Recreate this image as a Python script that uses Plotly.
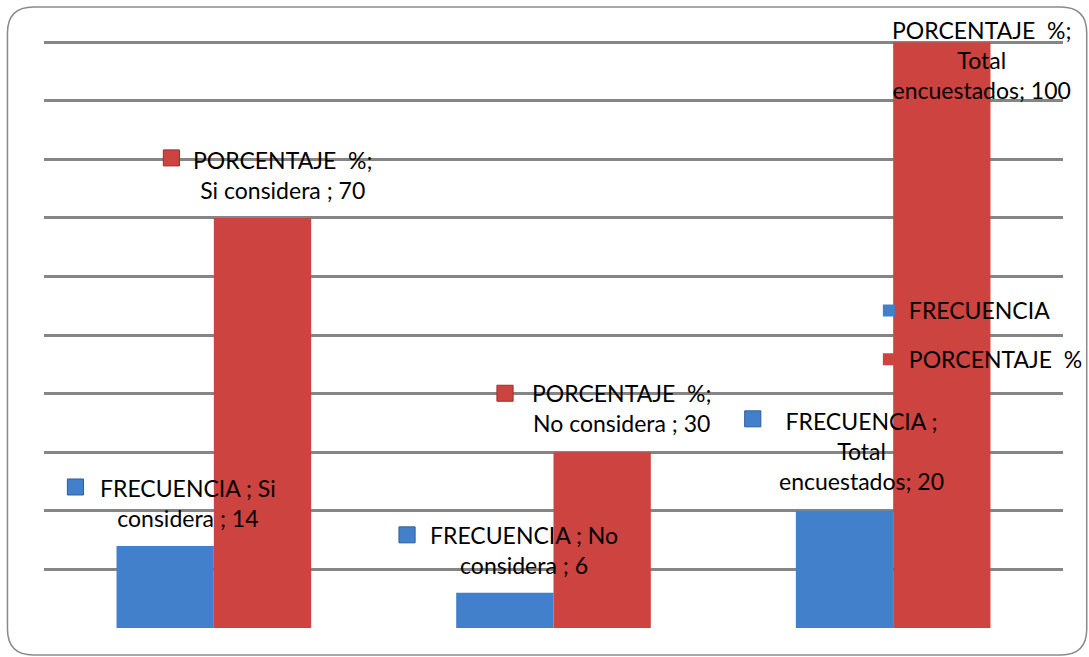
import plotly.graph_objects as go

# ---------------- data ----------------
categories = ["Si considera ", "No considera ", "Total encuestados"]
series_names = ["FRECUENCIA ", "PORCENTAJE  %"]
frecuencia = [14, 6, 20]
porcentaje = [70, 30, 100]
y_ticks = list(range(0, 101, 10))

# ---------------- layout constants ----------------
SX = 1100 / 1089          # horizontal compensation for the capture viewport
W, H = 1100, 657
ML, MR, MT, MB = round(44 * SX), round(26 * SX), 41, 29
PW = W - ML - MR
PH = H - MT - MB
Y_MAX = 100.2

BLUE, BLUE_DARK = "#4280cc", "#2f5d99"
RED, RED_DARK = "#cc4340", "#9a2f2c"
GRID = "#858585"
FONT = "Lato"
FS = 23

# label wrapping (token index where a new line starts) and placement (px offsets from bar top)
BREAKS = [[[3], [3], [2, 3]], [[3], [3], [3, 4]]]
LABEL_SHIFT = [[(-26, 43), (-29, 43), (-31, 60)], [(68, 43), (67, 44), (87, -18)]]
KEY_SHIFT = [[(-137, 59), (-145, 58), (-139, 92)], [(-42, 60), (-48, 59), (-28, 12)]]
KEY = 8


def nb(s):
    return s.replace("  ", " \u00a0")


def wrap(text, breaks):
    toks = text.split(" ")
    cuts = [0] + breaks + [len(toks)]
    lines = [" ".join(toks[a:b]) for a, b in zip(cuts[:-1], cuts[1:])]
    return "<br>".join(nb(l) for l in lines)


fig = go.Figure()
series = [frecuencia, porcentaje]
colors = [(BLUE, BLUE_DARK), (RED, RED_DARK)]
for s, (name, vals, (c, d)) in enumerate(zip(series_names, series, colors)):
    fig.add_bar(
        x=list(range(len(categories))),
        y=vals,
        name=nb(name.strip()),
        legendgroup=str(s),
        marker=dict(color=c, line=dict(color=d, width=0)),
        hoverinfo="skip",
    )

annotations = []
shapes = []
for s, (name, vals) in enumerate(zip(series_names, series)):
    col = colors[s]
    for i, (cat, v) in enumerate(zip(categories, vals)):
        txt = wrap(f"{name}; {cat}; {v}", BREAKS[s][i])
        dx, dy = LABEL_SHIFT[s][i]
        annotations.append(dict(
            x=i, y=v, xref="x", yref="y", text=txt, showarrow=False,
            xshift=dx * SX, yshift=dy, xanchor="center", yanchor="middle",
            align="center", font=dict(family=FONT, size=FS, color="#000000"),
        ))
        kx, ky = KEY_SHIFT[s][i]
        shapes.append(dict(
            type="rect", xref="x", yref="y", xsizemode="pixel", ysizemode="pixel",
            xanchor=i, yanchor=v, x0=(kx - KEY) * SX, x1=(kx + KEY) * SX,
            y0=ky - KEY, y1=ky + KEY,
            fillcolor=col[0], line=dict(color=col[1], width=1), layer="above",
        ))


# rounded outer frame (reference pixel -> paper)
def px(x):
    return (x * SX - ML) / PW


def py(y):
    return (H - MB - y) / PH


x0, x1, y0, y1, r = 7, 1087, 7, 655, 26
path = (
    f"M {px(x0 + r)} {py(y0)} L {px(x1 - r)} {py(y0)} "
    f"Q {px(x1)} {py(y0)} {px(x1)} {py(y0 + r)} "
    f"L {px(x1)} {py(y1 - r)} Q {px(x1)} {py(y1)} {px(x1 - r)} {py(y1)} "
    f"L {px(x0 + r)} {py(y1)} Q {px(x0)} {py(y1)} {px(x0)} {py(y1 - r)} "
    f"L {px(x0)} {py(y0 + r)} Q {px(x0)} {py(y0)} {px(x0 + r)} {py(y0)} Z"
)
shapes.append(dict(type="path", xref="paper", yref="paper", path=path,
                   line=dict(color="#8a8a8a", width=1.5), layer="below"))

fig.update_layout(
    width=W, height=H, autosize=False,
    margin=dict(l=ML, r=MR, t=MT, b=MB, pad=0),
    paper_bgcolor="white", plot_bgcolor="white",
    barmode="group", bargap=0.427, bargroupgap=0,
    font=dict(family=FONT, size=FS, color="#000000"),
    showlegend=True,
    legend=dict(
        x=px(869), y=py(289), xanchor="left", yanchor="top",
        bgcolor="rgba(0,0,0,0)", itemwidth=30, traceorder="grouped",
        tracegroupgap=16, font=dict(family=FONT, size=FS),
    ),
    xaxis=dict(
        type="linear", range=[-0.5, len(categories) - 0.5], tickvals=list(range(len(categories))),
        ticktext=categories, showticklabels=False, showgrid=False, zeroline=False, showline=False,
    ),
    yaxis=dict(
        range=[0, Y_MAX], tickvals=y_ticks, showticklabels=False, showgrid=True,
        gridcolor=GRID, gridwidth=2.5, zeroline=False, showline=False,
    ),
    annotations=annotations,
    shapes=shapes,
)

fig.write_html(
    "out.html",
    config={"displayModeBar": False, "responsive": False},
    post_script="document.body.style.margin='0';document.body.style.overflow='hidden';"
                "document.documentElement.style.overflow='hidden';",
)
